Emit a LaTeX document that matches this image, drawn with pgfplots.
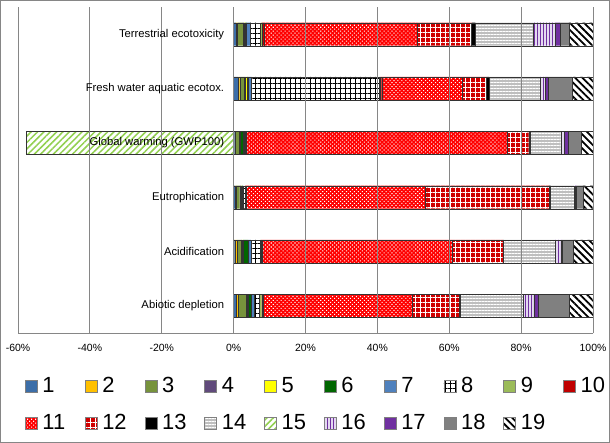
\documentclass[border=0pt]{standalone}
\usepackage{fontspec}
\setmainfont{Liberation Sans}
\usepackage{pgfplots}
\pgfplotsset{compat=1.18}
\usepackage{pgfplotstable}
\usetikzlibrary{patterns,patterns.meta}

\definecolor{c1}{HTML}{3C6EA8}
\definecolor{c2}{HTML}{FFC000}
\definecolor{c3}{HTML}{77933C}
\definecolor{c4}{HTML}{604A7B}
\definecolor{c5}{HTML}{FFFF00}
\definecolor{c6}{HTML}{006600}
\definecolor{c7}{HTML}{4F81BD}
\definecolor{c9}{HTML}{9BBB59}
\definecolor{c10}{HTML}{C00000}
\definecolor{c11}{HTML}{FF0000}
\definecolor{c12}{HTML}{D00000}
\definecolor{c14}{HTML}{BFBFBF}
\definecolor{c15}{HTML}{92D050}
\definecolor{c16bg}{HTML}{E4DAF0}
\definecolor{c16}{HTML}{7030A0}
\definecolor{c17}{HTML}{7030A0}
\definecolor{c18}{HTML}{808080}
\definecolor{gridgray}{HTML}{868686}

\pgfplotstableread{
y s1 s2 s3 s4 s5 s6 s7 s8 s9 s10 s11 s12 s13 s14 s15 s16 s17 s18 s19
0 0.7 0.6 2.1 0.4 0.3 0.9 0.8 1.4 0.6 0.3 41.6 13.1 0.3 17.6 0 2.8 1.2 8.8 6.5
1 0.3 0.6 1.2 0.2 0.3 1.5 0.7 2.6 0.2 0.2 52.9 14.2 0.2 14.3 0 1.6 0.4 3.0 5.6
2 0.5 0.2 1.0 0.3 0.2 0.3 0.2 0.4 0.2 0.1 49.9 34.4 0.5 6.5 0 0.3 0.4 1.8 2.8
3 0.3 0.2 1.0 0.2 0.2 0.8 0.2 0.3 0.2 0.2 72.4 6.1 0.3 8.6 -57.7 0.9 1.1 3.7 3.3
4 1.2 0.5 1.3 0.3 0.4 0.3 1.0 35.5 0.3 0.4 22.3 6.9 0.7 14.2 0 1.3 1.0 6.5 5.9
5 0.6 0.5 1.5 0.3 0.4 0.3 1.0 2.9 0.4 0.6 42.6 15.1 1.1 16.1 0 6.0 1.4 2.5 6.7
}\data

\tikzset{
 seg/.style={draw=black!80, line width=0.3bp},
 st1/.style={fill=c1},
 st2/.style={fill=c2},
 st3/.style={fill=c3},
 st4/.style={fill=c4},
 st5/.style={fill=c5},
 st6/.style={fill=c6},
 st7/.style={fill=c7},
 st8/.style={fill=white, postaction={pattern={Hatch[angle=0,distance=5bp,line width=0.8bp]}, pattern color=black}},
 st9/.style={fill=c9},
 st10/.style={fill=c10},
 st11/.style={fill=c11, postaction={pattern={Dots[distance=2.8bp,radius=0.75bp,angle=45]}, pattern color=white}},
 st12/.style={fill=c12, postaction={pattern={Hatch[angle=0,distance=5bp,line width=1bp]}, pattern color=white}},
 st13/.style={fill=black},
 st14/.style={fill=c14, postaction={pattern={Lines[angle=0,distance=3bp,line width=1bp]}, pattern color=white}},
 st15/.style={fill=white, postaction={pattern={Lines[angle=45,distance=4.5bp,line width=1.5bp]}, pattern color=c15}},
 st16/.style={fill=c16bg, postaction={pattern={Lines[angle=90,distance=3bp,line width=1bp]}, pattern color=c16}},
 st17/.style={fill=c17},
 st18/.style={fill=c18},
 st19/.style={fill=white, postaction={pattern={Lines[angle=-45,distance=5bp,line width=1.8bp]}, pattern color=black}},
}
\pgfplotsset{legsq/.style={legend image code/.code={\draw[##1,draw=gray,line width=0.4bp] (0bp,-6bp) rectangle (12bp,6bp);}}}

\begin{document}
\begin{tikzpicture}
\begin{axis}[name=ax,
 set layers=axis on top,
 scale only axis, width=575bp, height=326bp,
 xbar stacked, bar width=23bp,
 xmin=-60, xmax=100, ymin=-0.5, ymax=5.5,
 xtick={-60,-40,...,100},
 xticklabel={\pgfmathprintnumber{\tick}\%},
 ytick={0,...,5},
 yticklabels={Abiotic depletion, Acidification, Eutrophication, Global warming (GWP100), Fresh water aquatic ecotox., Terrestrial ecotoxicity},
 axis x line*=bottom, axis y line*=middle,
 hide obscured x ticks=false,
 xmajorgrids, grid style={gridgray, line width=0.8bp, /pgfplots/on layer=axis background},
 axis line style={gridgray, line width=0.8bp},
 tick style={gridgray, line width=0.8bp},
 major tick length=4bp,
 ytick style={draw=none},
 xticklabel style={font=\fontsize{10.5}{12}\selectfont, yshift=-8bp},
 yticklabel style={font=\fontsize{11.3}{13}\selectfont, xshift=-6bp},
 /pgf/number format/assume math mode=true,
 legend columns=10,
 legend cell align=left,
 legend style={draw=none, fill=none, at={(0.012,-0.126)}, anchor=north west,
   font=\fontsize{22}{26}\selectfont,
   nodes={text width=24bp, align=left, inner xsep=5bp, inner ysep=2bp, text height=16bp, text depth=4bp},
   /tikz/every even column/.append style={column sep=13.4bp},
   row sep=13bp, inner sep=0pt},
]
\addplot[forget plot, seg, st1] table[x=s1,y=y]{\data};
\addplot[forget plot, seg, st2] table[x=s2,y=y]{\data};
\addplot[forget plot, seg, st3] table[x=s3,y=y]{\data};
\addplot[forget plot, seg, st4] table[x=s4,y=y]{\data};
\addplot[forget plot, seg, st5] table[x=s5,y=y]{\data};
\addplot[forget plot, seg, st6] table[x=s6,y=y]{\data};
\addplot[forget plot, seg, st7] table[x=s7,y=y]{\data};
\addplot[forget plot, seg, st8] table[x=s8,y=y]{\data};
\addplot[forget plot, seg, st9] table[x=s9,y=y]{\data};
\addplot[forget plot, seg, st10] table[x=s10,y=y]{\data};
\addplot[forget plot, seg, st11] table[x=s11,y=y]{\data};
\addplot[forget plot, seg, st12] table[x=s12,y=y]{\data};
\addplot[forget plot, seg, st13] table[x=s13,y=y]{\data};
\addplot[forget plot, seg, st14] table[x=s14,y=y]{\data};
\addplot[forget plot, seg, st15] table[x=s15,y=y]{\data};
\addplot[forget plot, seg, st16] table[x=s16,y=y]{\data};
\addplot[forget plot, seg, st17] table[x=s17,y=y]{\data};
\addplot[forget plot, seg, st18] table[x=s18,y=y]{\data};
\addplot[forget plot, seg, st19] table[x=s19,y=y]{\data};
\addlegendimage{legsq,st1}\addlegendentry{1}
\addlegendimage{legsq,st2}\addlegendentry{2}
\addlegendimage{legsq,st3}\addlegendentry{3}
\addlegendimage{legsq,st4}\addlegendentry{4}
\addlegendimage{legsq,st5}\addlegendentry{5}
\addlegendimage{legsq,st6}\addlegendentry{6}
\addlegendimage{legsq,st7}\addlegendentry{7}
\addlegendimage{legsq,st8}\addlegendentry{8}
\addlegendimage{legsq,st9}\addlegendentry{9}
\addlegendimage{legsq,st10}\addlegendentry{10}
\addlegendimage{legsq,st11}\addlegendentry{11}
\addlegendimage{legsq,st12}\addlegendentry{12}
\addlegendimage{legsq,st13}\addlegendentry{13}
\addlegendimage{legsq,st14}\addlegendentry{14}
\addlegendimage{legsq,st15}\addlegendentry{15}
\addlegendimage{legsq,st16}\addlegendentry{16}
\addlegendimage{legsq,st17}\addlegendentry{17}
\addlegendimage{legsq,st18}\addlegendentry{18}
\addlegendimage{legsq,st19}\addlegendentry{19}
\end{axis}
\draw[gridgray, line width=0.8bp] ([shift={(-17.6bp,-109.6bp)}]ax.south west) rectangle ([shift={(16.6bp,6.6bp)}]ax.north east);
\end{tikzpicture}
\end{document}
